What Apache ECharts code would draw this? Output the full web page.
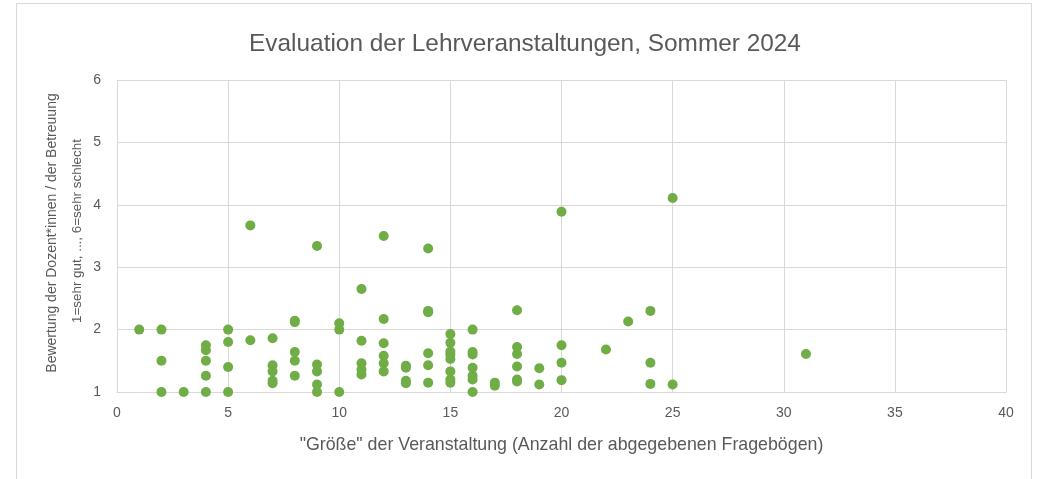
<!DOCTYPE html>
<html>
<head>
<meta charset="utf-8">
<title>Evaluation der Lehrveranstaltungen</title>
<script src="https://cdn.jsdelivr.net/npm/echarts@6/dist/echarts.min.js"></script>
<style>
  html, body { margin: 0; padding: 0; background: #fff; }
  #chart { width: 1037px; height: 479px; }
</style>
</head>
<body>
<div id="chart"></div>
<script>
// Anzahl abgegebener Fragebögen je Veranstaltung
var groesse = [
  1,
  2, 2, 2,
  3,
  4, 4, 4, 4, 4,
  5, 5, 5, 5,
  6, 6,
  7, 7, 7, 7, 7,
  8, 8, 8, 8, 8,
  9, 9, 9, 9, 9,
  10, 10, 10,
  11, 11, 11, 11, 11,
  12, 12, 12, 12, 12, 12,
  13, 13, 13, 13,
  14, 14, 14, 14, 14, 14,
  15, 15, 15, 15, 15, 15, 15, 15,
  16, 16, 16, 16, 16, 16, 16,
  17, 17,
  18, 18, 18, 18, 18, 18,
  19, 19,
  20, 20, 20, 20,
  22,
  23,
  24, 24, 24,
  25, 25,
  31
];
// Bewertung (1 = sehr gut ... 6 = sehr schlecht)
var bewertung = [
  2,
  2, 1.5, 1,
  1,
  1.75, 1.67, 1.5, 1.26, 1,
  2, 1.8, 1.4, 1,
  3.67, 1.83,
  1.86, 1.43, 1.33, 1.18, 1.14,
  2.14, 2.12, 1.64, 1.5, 1.26,
  3.34, 1.44, 1.33, 1.12, 1,
  2.1, 2, 1,
  2.65, 1.82, 1.46, 1.36, 1.28,
  3.5, 2.17, 1.78, 1.58, 1.46, 1.33,
  1.42, 1.39, 1.18, 1.14,
  3.3, 2.3, 2.28, 1.62, 1.43, 1.15,
  1.93, 1.79, 1.65, 1.6, 1.53, 1.33, 1.2, 1.15,
  2, 1.64, 1.6, 1.39, 1.26, 1.2, 1,
  1.15, 1.1,
  2.31, 1.72, 1.61, 1.41, 1.2, 1.17,
  1.38, 1.12,
  3.89, 1.75, 1.47, 1.19,
  1.68,
  2.13,
  2.3, 1.47, 1.13,
  4.11, 1.12,
  1.61
];

var punkte = groesse.map(function (g, i) { return [g, bewertung[i]]; });

var chart = echarts.init(document.getElementById('chart'));

var option = {
  animation: false,
  textStyle: { fontFamily: '"Liberation Sans", Arial, sans-serif' },
  title: {
    text: 'Evaluation der Lehrveranstaltungen, Sommer 2024',
    left: 520,
    textAlign: 'center',
    top: 27,
    textStyle: { fontSize: 24.4, fontWeight: 'normal', color: '#595959' }
  },
  graphic: [
    {
      // Rahmen des Diagramms
      type: 'rect',
      shape: { x: 16.5, y: 3.5, width: 1015, height: 520 },
      style: { fill: 'none', stroke: '#D9D9D9', lineWidth: 1 },
      silent: true
    },
    {
      type: 'text',
      x: 52, y: 233,
      rotation: Math.PI / 2,
      style: {
        text: 'Bewertung der Dozent*innen / der Betreuung',
        fontSize: 14, fill: '#595959',
        fontFamily: '"Liberation Sans", Arial, sans-serif',
        align: 'center', verticalAlign: 'middle'
      }
    },
    {
      type: 'text',
      x: 77, y: 231,
      rotation: Math.PI / 2,
      style: {
        text: '1=sehr gut, ..., 6=sehr schlecht',
        fontSize: 13.4, fill: '#595959',
        fontFamily: '"Liberation Sans", Arial, sans-serif',
        align: 'center', verticalAlign: 'middle'
      }
    }
  ],
  grid: { left: 117, right: 31, top: 80, bottom: 87 },
  xAxis: {
    type: 'value',
    min: 0, max: 40, interval: 5,
    name: '"Größe" der Veranstaltung (Anzahl der abgegebenen Fragebögen)',
    nameLocation: 'middle',
    nameGap: 44,
    nameTextStyle: { fontSize: 17.8, color: '#595959' },
    axisLine: { show: true, lineStyle: { color: '#D9D9D9' } },
    axisTick: { show: false },
    axisLabel: { fontSize: 14, color: '#595959', margin: 14 },
    splitLine: { show: true, lineStyle: { color: '#D9D9D9', width: 1 } }
  },
  yAxis: {
    type: 'value',
    min: 1, max: 6, interval: 1,
    axisLine: { show: true, lineStyle: { color: '#D9D9D9' } },
    axisTick: { show: false },
    axisLabel: { fontSize: 14, color: '#595959', margin: 16 },
    splitLine: { show: true, lineStyle: { color: '#D9D9D9', width: 1 } }
  },
  series: [{
    type: 'scatter',
    data: punkte,
    symbol: 'circle',
    symbolSize: 10,
    itemStyle: { color: '#70AD47', opacity: 1 }
  }]
};

chart.setOption(option);
</script>
</body>
</html>
